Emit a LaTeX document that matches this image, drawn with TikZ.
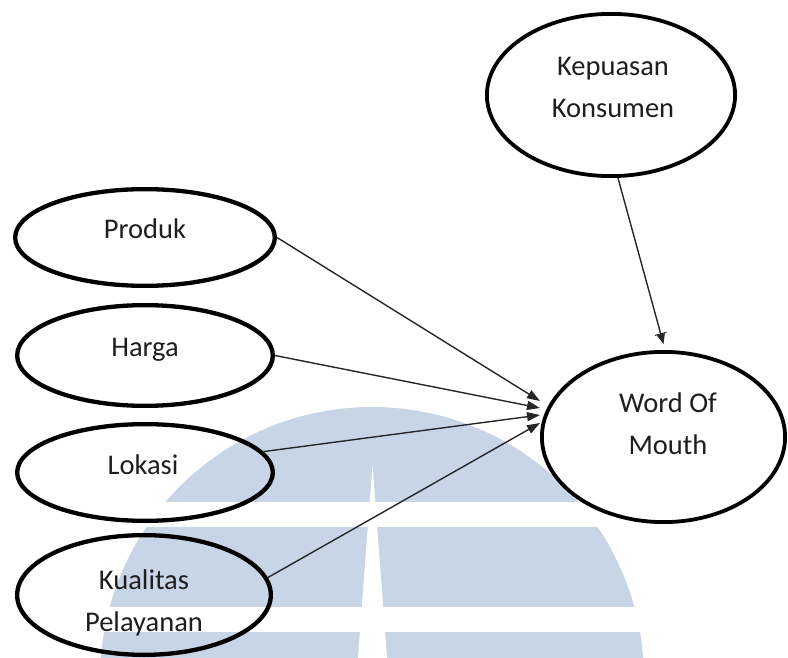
\documentclass[tikz,border=0pt]{standalone}
\usepackage{fontspec}
\setmainfont{Carlito}
\usetikzlibrary{shapes.geometric,arrows.meta}
\definecolor{markblue}{RGB}{200,213,231}
\definecolor{inkgray}{RGB}{30,30,30}
\begin{document}
\begin{tikzpicture}[x=1pt,y=-1pt,
  oval/.style={ellipse, draw=black, line width=4.3pt, inner sep=0pt},
  thinoval/.style={oval, line width=3.8pt},
  word/.style={font=\fontsize{28.5}{42}\selectfont, text=inkgray, align=center, inner sep=0pt, anchor=base},
  link/.style={line width=1.4pt, draw=black!85, -{Triangle[length=13pt,width=9pt]}}]
\useasboundingbox (0,0) rectangle (788,658);

% crest in the background: dome with two bands and a road
\begin{scope}
  \clip (0,0) rectangle (788,658);
  \fill[markblue] (372,679) circle[radius=272pt];
  \fill[white] (0,502) rectangle (788,527);
  \fill[white] (0,607) rectangle (788,632);
  \fill[white] (372.5,465) -- (388,670) -- (357,670) -- cycle;
\end{scope}

% variables
\node[oval, minimum width=259.7pt, minimum height=96.7pt]  (produk)   at (145,237.5) {};
\node[oval, minimum width=255.7pt, minimum height=100.7pt] (harga)    at (145,355.5) {};
\node[oval, minimum width=255.7pt, minimum height=96.7pt]  (lokasi)   at (145,472.5) {};
\node[oval, minimum width=253.7pt, minimum height=119.7pt] (kualitas) at (144,595) {};
\node[thinoval, minimum width=248.2pt, minimum height=162.2pt] (kepuasan) at (611,95) {};
\node[thinoval, minimum width=243.2pt, minimum height=170.2pt] (wom)      at (663.5,437) {};

% labels (a multi-line label sits on the baseline of its last line)
\node[word] (produk-t)   at (145,239) {Produk};
\node[word] (harga-t)    at (145,356) {Harga};
\node[word] (lokasi-t)   at (143,474) {Lokasi};
\node[word] (kualitas-t) at (144,631) {Kualitas\\Pelayanan};
\node[word] (kepuasan-t) at (613,118) {Kepuasan\\Konsumen};
\node[word] (wom-t)      at (668,454) {Word Of\\Mouth};

% paths
\draw[link] (produk.east)   -- ([yshift=36pt]wom.west);
\draw[link] (harga.east)    -- ([yshift=29pt]wom.west);
\draw[link] (lokasi.10)     -- ([yshift=22pt]wom.west);
\draw[link] (kualitas.8)    -- ([yshift=14pt]wom.west);
\draw[line width=1.4pt, draw=black!85,
      -{Bar[width=12pt,line width=1pt] Triangle[length=10pt,width=8pt]}]
      ([xshift=7pt]kepuasan.south) -- ([yshift=6pt]wom.north);
\end{tikzpicture}
\end{document}
